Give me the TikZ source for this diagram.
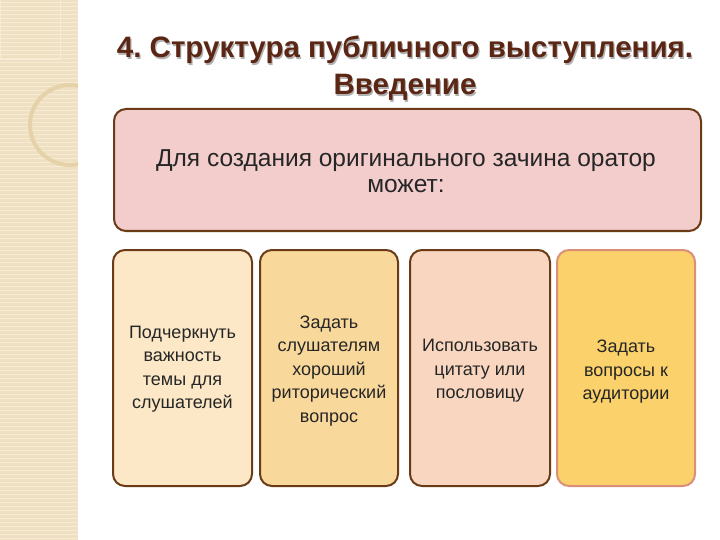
\documentclass[tikz,border=0pt]{standalone}
\usepackage{fontspec}
\setmainfont{Liberation Sans}
\frenchspacing
\definecolor{stripe}{HTML}{EFE0C2}
\definecolor{stripeline}{HTML}{F6EBD6}
\definecolor{ringcol}{HTML}{E6D2A8}
\definecolor{titlecol}{HTML}{5B2614}
\definecolor{bordercol}{HTML}{6B3A17}
\definecolor{topfill}{HTML}{F2CDCB}
\definecolor{fillA}{HTML}{FCE8C6}
\definecolor{fillB}{HTML}{F9D89C}
\definecolor{fillC}{HTML}{F9D6BF}
\definecolor{fillD}{HTML}{FAD16A}
\definecolor{borderD}{HTML}{DA9078}
\begin{document}
\begin{tikzpicture}[x=1pt,y=-1pt,
  boxstyle/.style={draw=bordercol, line width=2pt, rounded corners=12pt},
  boxtext/.style={align=center, font=\fontsize{18}{23.5}\selectfont, text=black!85},
  titletext/.style={font=\bfseries\fontsize{29.5}{37}\selectfont, align=center}]
\useasboundingbox (0,0) rectangle (720,540);
\fill[white] (0,0) rectangle (720,540);
% left stripe
\fill[stripe] (0,0) rectangle (78,540);
\foreach \yy in {2,6,...,538} \draw[stripeline, line width=0.6pt] (0,\yy) -- (78,\yy);
\draw[stripeline, line width=1pt] (0,0) rectangle (60,60);
\begin{scope}
\clip (0,0) rectangle (78,540);
\draw[ringcol, line width=4pt] (70,125) circle (40);
\draw[ringcol!60, line width=1pt] (60,0) arc (0:-90:50 and 58);
\end{scope}
% title
\node[titletext, text=black!30] at (406.2,69.7) {4. Структура публичного выступления.\\Введение};
\node[titletext, text=titlecol] (title) at (405,68.5) {4. Структура публичного выступления.\\Введение};
% top box
\node[boxstyle, fill=topfill, minimum width=587pt, minimum height=122pt, anchor=north west] (top) at (113,108) {};
\node[align=center, font=\fontsize{24.5}{26}\selectfont, text=black!85] (toptext) at (406,171) {Для создания оригинального зачина оратор\\может:};
% bottom boxes
\node[boxstyle, fill=fillA, minimum width=139pt, minimum height=236pt, anchor=north west] (b1) at (112,249) {};
\node[boxstyle, fill=fillB, minimum width=138pt, minimum height=236pt, anchor=north west] (b2) at (259,249) {};
\node[boxstyle, fill=fillC, minimum width=140pt, minimum height=236pt, anchor=north west] (b3) at (409,249) {};
\node[boxstyle, draw=borderD, fill=fillD, minimum width=138pt, minimum height=236pt, anchor=north west] (b4) at (556,249) {};
\node[boxtext] (t1) at ([yshift=-1pt]b1.center) {Подчеркнуть\\важность\\темы для\\слушателей};
\node[boxtext] (t2) at ([yshift=-3pt]b2.center) {Задать\\слушателям\\хороший\\риторический\\вопрос};
\node[boxtext] (t3) at ([yshift=-3pt]b3.center) {Использовать\\цитату или\\пословицу};
\node[boxtext] (t4) at ([yshift=-4pt]b4.center) {Задать\\вопросы к\\аудитории};
\end{tikzpicture}
\end{document}
